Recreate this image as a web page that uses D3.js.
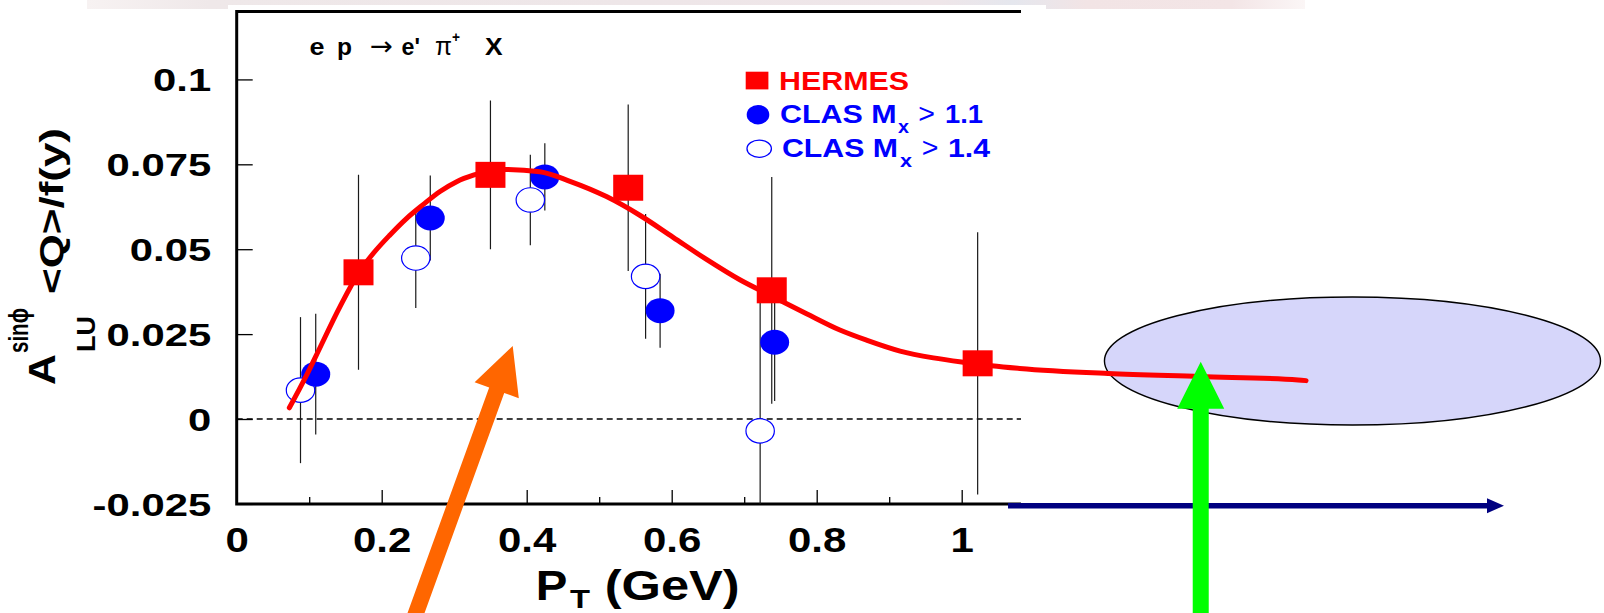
<!DOCTYPE html>
<html>
<head>
<meta charset="utf-8">
<script src="https://cdn.jsdelivr.net/npm/d3@7/dist/d3.min.js"></script>
<style>
  html, body { margin: 0; padding: 0; background: #fff; }
  svg { display: block; }
  text { font-family: "Liberation Sans", Arial, Helvetica, sans-serif; }
</style>
</head>
<body>
<svg id="chart" width="1604" height="613"></svg>
<script>
// ---- measurements: beam-spin asymmetry vs P_T ----
const hermesPt  = [0.168, 0.350, 0.540, 0.738, 1.022];
const hermesA   = [0.0432, 0.0719, 0.0681, 0.0379, 0.0164];
const hermesErr = [0.0287, 0.0219, 0.0245, 0.0334, 0.0386];

const clas11Pt  = [0.109, 0.267, 0.425, 0.584, 0.742];
const clas11A   = [0.0132, 0.0592, 0.0713, 0.0319, 0.0226];
const clas11Err = [0.0178, 0.0125, 0.0099, 0.0109, 0.0173];

const clas14Pt  = [0.088, 0.247, 0.405, 0.564, 0.722];
const clas14A   = [0.0085, 0.0474, 0.0645, 0.0420, -0.0035];
const clas14Err = [0.0215, 0.0147, 0.0133, 0.0184, 0.0380];

// model curve, sampled along P_T
const curvePt = [0.0726, 0.0966, 0.1094, 0.1425, 0.1678, 0.1885, 0.2114, 0.2345, 0.2575,
                 0.2804, 0.3034, 0.3264, 0.3494, 0.3724, 0.4183, 0.4597, 0.510, 0.556, 0.602,
                 0.648, 0.694, 0.740, 0.786, 0.832, 0.869, 0.915, 0.961, 1.007, 1.041, 1.080,
                 1.202, 1.329, 1.464, 1.475];
const curveA  = [0.0033, 0.0130, 0.0186, 0.0331, 0.0429, 0.0488, 0.0542, 0.0591, 0.0632,
                 0.0670, 0.0699, 0.0718, 0.0731, 0.0735, 0.0728, 0.0700, 0.0655, 0.0600, 0.0535,
                 0.0470, 0.0410, 0.0360, 0.0310, 0.0262, 0.0232, 0.0200, 0.0180, 0.0166, 0.0157, 0.0149,
                 0.0134, 0.0125, 0.0115, 0.0113];

const xMajorTicks = [0, 0.2, 0.4, 0.6, 0.8, 1];
const xMinorTicks = [0.1, 0.3, 0.5, 0.7, 0.9];
const xTickLabels = ["0", "0.2", "0.4", "0.6", "0.8", "1"];
const yTicks      = [-0.025, 0, 0.025, 0.05, 0.075, 0.1];
const yTickLabels = ["-0.025", "0", "0.025", "0.05", "0.075", "0.1"];

const legendLabels = ["HERMES", "CLAS M", "CLAS M"];
const legendCuts   = ["1.1", "1.4"];

// ---- scales ----
const plotL = 236.7, plotR = 1021, plotT = 11.5, plotB = 503.9;
const x = d3.scaleLinear().domain([0, (plotR - plotL) / 725]).range([plotL, plotR]);
const y = d3.scaleLinear().domain([-0.025, 0.12]).range([plotB, plotT]);

const svg = d3.select("#chart");
const RED = "#ff0000", BLUE = "#0000ff";

// ---- slide header band ----
const defs = svg.append("defs");
const band = defs.append("linearGradient").attr("id", "band").attr("x1", 0).attr("x2", 1);
[[0, "#f7f2f2"], [0.1, "#efe8e9"], [0.45, "#eee6e8"], [0.7, "#efe6e9"], [0.76, "#e5e7ee"],
 [0.82, "#f2e4e5"], [0.94, "#f3e5e6"], [1, "#fbf6f6"]].forEach(([o, c]) =>
  band.append("stop").attr("offset", o).attr("stop-color", c));
svg.append("rect").attr("x", 87).attr("y", 0).attr("width", 1218).attr("height", 9).attr("fill", "url(#band)");
svg.append("rect").attr("x", 228).attr("y", 5).attr("width", 818).attr("height", 5).attr("fill", "#fff");

defs.append("clipPath").attr("id", "plotClip")
  .append("rect").attr("x", plotL).attr("y", plotT).attr("width", plotR - plotL).attr("height", plotB - plotT);

// ---- axes ----
const g = svg.append("g");

const xMajor = g.append("g").attr("transform", `translate(0,${plotB})`)
  .call(d3.axisBottom(x).tickValues(xMajorTicks).tickSize(-14).tickFormat((d, i) => xTickLabels[i]));
const xMinor = g.append("g").attr("transform", `translate(0,${plotB})`)
  .call(d3.axisBottom(x).tickValues(xMinorTicks).tickSize(-7).tickFormat(""));
const yAxis = g.append("g").attr("transform", `translate(${plotL},0)`)
  .call(d3.axisLeft(y).tickValues(yTicks).tickSize(-16).tickFormat((d, i) => yTickLabels[i]));

[xMajor, xMinor, yAxis].forEach(a => {
  a.select(".domain").remove();
  a.selectAll(".tick line").attr("stroke", "#000").attr("stroke-width", 1.3);
});
xMajor.selectAll(".tick text")
  .attr("y", 48).attr("dy", null)
  .attr("font-size", 35).attr("font-weight", "bold").attr("fill", "#000")
  .style("transform-box", "fill-box").style("transform-origin", "center")
  .style("transform", "scaleX(1.2)");
yAxis.selectAll(".tick text")
  .attr("x", -25.5).attr("dy", "0.36em")
  .attr("font-size", 31.7).attr("font-weight", "bold").attr("fill", "#000")
  .style("transform-box", "fill-box").style("transform-origin", "right center")
  .style("transform", "scaleX(1.32)");

// frame (left, top, bottom)
g.append("path")
  .attr("d", `M${plotR},${plotT}H${plotL}V${plotB}H${plotR}`)
  .attr("fill", "none").attr("stroke", "#000").attr("stroke-width", 3);

// zero line
g.append("line")
  .attr("x1", plotL).attr("x2", plotR).attr("y1", y(0)).attr("y2", y(0))
  .attr("stroke", "#000").attr("stroke-width", 1.5).attr("stroke-dasharray", "6,4");

// ---- process label ----
const proc = g.append("g").attr("fill", "#000");
const procParts = [
  { t: "e", x: 309.6, w: 15, b: true, fs: 23, f: null },
  { t: "p", x: 337, w: 15, b: true, fs: 23, f: null },
  { t: "\u2192", x: 370, w: 23, b: false, fs: 26, f: "DejaVu Sans" },
  { t: "e'", x: 401.6, w: 18.4, b: true, fs: 23, f: null },
  { t: "\u03c0", x: 435, w: 17, b: false, fs: 25, f: null },
  { t: "X", x: 485, w: 17.6, b: true, fs: 23, f: null }
];
procParts.forEach(p => {
  const t = proc.append("text").attr("x", p.x).attr("y", 55).attr("font-size", p.fs)
    .attr("font-weight", p.b ? "bold" : "normal").attr("textLength", p.w)
    .attr("lengthAdjust", "spacingAndGlyphs").text(p.t);
  if (p.f) t.style("font-family", p.f);
});
proc.append("text").attr("x", 452).attr("y", 42).attr("font-size", 14).attr("font-weight", "bold")
  .attr("textLength", 8).attr("lengthAdjust", "spacingAndGlyphs").text("+");

// ---- legend ----
const leg = g.append("g").attr("font-weight", "bold");
leg.append("rect").attr("x", 745.7).attr("y", 71.7).attr("width", 22.7).attr("height", 17.7).attr("fill", RED);
leg.append("text").attr("x", 779).attr("y", 90).attr("font-size", 25.6).attr("fill", RED)
  .attr("textLength", 130).attr("lengthAdjust", "spacingAndGlyphs").text(legendLabels[0]);

leg.append("ellipse").attr("cx", 758).attr("cy", 114.7).attr("rx", 11.3).attr("ry", 9.7).attr("fill", BLUE);
leg.append("ellipse").attr("cx", 759.2).attr("cy", 148.7).attr("rx", 12.2).attr("ry", 8.6)
  .attr("fill", "#fff").attr("stroke", BLUE).attr("stroke-width", 1.3);

[{ base: 123.3, x0: 780, w0: 116.7, xs: 898, ws: 11, xg: 918.3, xc: 945, wc: 38 },
 { base: 157.2, x0: 782, w0: 116, xs: 900, ws: 12, xg: 921.7, xc: 948, wc: 42 }].forEach((r, i) => {
  leg.append("text").attr("x", r.x0).attr("y", r.base).attr("font-size", 26.5).attr("fill", BLUE)
    .attr("textLength", r.w0).attr("lengthAdjust", "spacingAndGlyphs").text(legendLabels[i + 1]);
  leg.append("text").attr("x", r.xs).attr("y", r.base + 9.4).attr("font-size", 19).attr("fill", BLUE)
    .attr("textLength", r.ws).attr("lengthAdjust", "spacingAndGlyphs").text("x");
  leg.append("text").attr("x", r.xg).attr("y", r.base).attr("font-size", 27).attr("font-weight", "normal")
    .attr("fill", BLUE).attr("textLength", 16.7).attr("lengthAdjust", "spacingAndGlyphs").text(">");
  leg.append("text").attr("x", r.xc).attr("y", r.base).attr("font-size", 26.5).attr("fill", BLUE)
    .attr("textLength", r.wc).attr("lengthAdjust", "spacingAndGlyphs").text(legendCuts[i]);
});

// ---- axis titles ----
const xt = g.append("g").attr("font-weight", "bold").attr("fill", "#000");
xt.append("text").attr("x", 535.8).attr("y", 600).attr("font-size", 43)
  .attr("textLength", 31.6).attr("lengthAdjust", "spacingAndGlyphs").text("P");
xt.append("text").attr("x", 570).attr("y", 607.5).attr("font-size", 26)
  .attr("textLength", 20).attr("lengthAdjust", "spacingAndGlyphs").text("T");
xt.append("text").attr("x", 604.7).attr("y", 600).attr("font-size", 43)
  .attr("textLength", 135).attr("lengthAdjust", "spacingAndGlyphs").text("(GeV)");

const yt = g.append("g").attr("transform", "rotate(-90)").attr("font-weight", "bold").attr("fill", "#000");
yt.append("text").attr("x", -385).attr("y", 55).attr("font-size", 37.7)
  .attr("textLength", 31).attr("lengthAdjust", "spacingAndGlyphs").text("A");
yt.append("text").attr("x", -353).attr("y", 28).attr("font-size", 27)
  .attr("textLength", 45).attr("lengthAdjust", "spacingAndGlyphs").text("sin\u03d5");
yt.append("text").attr("x", -352).attr("y", 95).attr("font-size", 25)
  .attr("textLength", 36).attr("lengthAdjust", "spacingAndGlyphs").text("LU");
yt.append("text").attr("x", -294).attr("y", 63).attr("font-size", 33)
  .attr("textLength", 166).attr("lengthAdjust", "spacingAndGlyphs").text("<Q>/f(y)");

// ---- error bars ----
const bars = g.append("g").attr("clip-path", "url(#plotClip)")
  .attr("stroke", "#1a1a1a").attr("stroke-width", 1.2);
function errorBars(xs, ys, es) {
  bars.selectAll(null).data(xs.map((v, i) => [v, ys[i], es[i]])).enter().append("line")
    .attr("x1", d => x(d[0])).attr("x2", d => x(d[0]))
    .attr("y1", d => y(d[1] + d[2])).attr("y2", d => y(d[1] - d[2]));
}
errorBars(hermesPt, hermesA, hermesErr);
errorBars(clas11Pt, clas11A, clas11Err);
errorBars(clas14Pt, clas14A, clas14Err);

// open markers (CLAS Mx > 1.4)
g.append("g").selectAll("ellipse").data(clas14Pt.map((v, i) => [v, clas14A[i]])).enter().append("ellipse")
  .attr("cx", d => x(d[0])).attr("cy", d => y(d[1])).attr("rx", 14.2).attr("ry", 12.2)
  .attr("fill", "#fff").attr("stroke", BLUE).attr("stroke-width", 1.2);
// filled markers (CLAS Mx > 1.1)
g.append("g").selectAll("ellipse").data(clas11Pt.map((v, i) => [v, clas11A[i]])).enter().append("ellipse")
  .attr("cx", d => x(d[0])).attr("cy", d => y(d[1])).attr("rx", 14.5).attr("ry", 12.5)
  .attr("fill", BLUE);

// ---- highlighted region around the high-P_T tail ----
svg.append("ellipse")
  .attr("cx", x(1.539)).attr("cy", y(0.01708))
  .attr("rx", x(1.539 + 0.3421) - x(1.539)).attr("ry", y(0.01708) - y(0.01708 + 0.01885))
  .attr("fill", "#d6d6fa").attr("stroke", "#000").attr("stroke-width", 1.4);

// model curve
svg.append("path")
  .datum(curvePt.map((v, i) => [v, curveA[i]]))
  .attr("d", d3.line().x(d => x(d[0])).y(d => y(d[1])).curve(d3.curveMonotoneX))
  .attr("fill", "none").attr("stroke", RED).attr("stroke-width", 5).attr("stroke-linecap", "round");

// HERMES squares
svg.append("g").selectAll("rect").data(hermesPt.map((v, i) => [v, hermesA[i]])).enter().append("rect")
  .attr("x", d => x(d[0]) - 15).attr("y", d => y(d[1]) - 13).attr("width", 30).attr("height", 26)
  .attr("fill", RED);

// ---- annotation arrows ----
function arrow(x0, y0, x1, y1, shaftHalf, headHalf, headLen, color) {
  const dx = x1 - x0, dy = y1 - y0, L = Math.hypot(dx, dy);
  const ux = dx / L, uy = dy / L, nx = -uy, ny = ux;
  const bx = x1 - ux * headLen, by = y1 - uy * headLen;
  const pts = [
    [x0 + nx * shaftHalf, y0 + ny * shaftHalf], [bx + nx * shaftHalf, by + ny * shaftHalf],
    [bx + nx * headHalf, by + ny * headHalf], [x1, y1],
    [bx - nx * headHalf, by - ny * headHalf], [bx - nx * shaftHalf, by - ny * shaftHalf],
    [x0 - nx * shaftHalf, y0 - ny * shaftHalf]
  ];
  svg.append("polygon").attr("points", pts.map(p => p.join(",")).join(" ")).attr("fill", color);
}
// axis continuation
arrow(x(1.0639), y(-0.02553), x(1.748), y(-0.02553), 2.7, 7.5, 17, "#000080");
// pointer to the peak region
arrow(x(0.2413), y(-0.0607), x(0.3807), y(0.0215), 8, 23.5, 47, "#ff6600");
// pointer to the high-P_T tail
arrow(x(1.3297), y(-0.0607), x(1.3297), y(0.01687), 8, 23.5, 47, "#00ff00");
</script>
</body>
</html>
